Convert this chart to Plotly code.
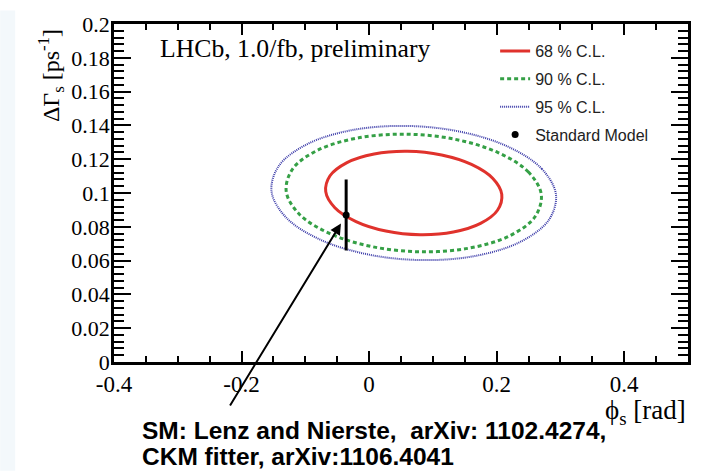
import plotly.graph_objects as go

# ---- data ----
cl68_phi = [0.208, 0.1937, 0.1605, 0.1137, 0.060, 0.0079, -0.0347, -0.0613, -0.068,
            -0.0537, -0.0205, 0.0263, 0.080, 0.1321, 0.1747, 0.2013, 0.208]
cl68_dg = [0.0992, 0.1087, 0.1169, 0.1225, 0.1247, 0.1231, 0.1180, 0.1102, 0.1008,
           0.0913, 0.0831, 0.0775, 0.0753, 0.0769, 0.0820, 0.0898, 0.0992]

cl90_phi = [0.270, 0.2498, 0.2022, 0.1346, 0.057, -0.0186, -0.0806, -0.1198, -0.130,
            -0.1098, -0.0622, 0.0054, 0.083, 0.1586, 0.2206, 0.2598, 0.270]
cl90_dg = [0.099, 0.1124, 0.1239, 0.1318, 0.1348, 0.1325, 0.1253, 0.1143, 0.101,
           0.0876, 0.0761, 0.0682, 0.0652, 0.0675, 0.0747, 0.0858, 0.099]

cl95_phi = [0.293, 0.2707, 0.2178, 0.1425, 0.056, -0.0283, -0.0976, -0.1415, -0.153,
            -0.1307, -0.0778, -0.0025, 0.084, 0.1683, 0.2376, 0.2815, 0.293]
cl95_dg = [0.099, 0.1143, 0.1274, 0.1363, 0.1397, 0.1371, 0.1288, 0.1161, 0.101,
           0.0857, 0.0726, 0.0637, 0.0603, 0.0629, 0.0712, 0.0839, 0.099]

sm_phi = [-0.036]
sm_dg = [0.087]
sm_err = [0.021]

x_tickvals = [-0.4, -0.2, 0, 0.2, 0.4]
x_ticktext = ["-0.4", "-0.2", "0", "0.2", "0.4"]
y_tickvals = [0, 0.02, 0.04, 0.06, 0.08, 0.1, 0.12, 0.14, 0.16, 0.18, 0.2]
y_ticktext = ["0", "0.02", "0.04", "0.06", "0.08", "0.1", "0.12", "0.14", "0.16", "0.18", "0.2"]

legend_names = ["68 % C.L.", "90 % C.L.", "95 % C.L.", "Standard Model"]

SERIF = "Liberation Serif, Times New Roman, serif"
SANS = "Liberation Sans, Arial, sans-serif"

fig = go.Figure()
fig.add_trace(go.Scatter(x=cl68_phi, y=cl68_dg, mode="lines", name=legend_names[0],
                         line=dict(color="#e0322c", width=3, shape="spline"),
                         legendgroup="a"))
fig.add_trace(go.Scatter(x=cl90_phi, y=cl90_dg, mode="lines", name=legend_names[1],
                         line=dict(color="#35a046", width=3, dash="4px,3px", shape="spline"),
                         legendgroup="b"))
fig.add_trace(go.Scatter(x=cl95_phi, y=cl95_dg, mode="lines", name=legend_names[2],
                         line=dict(color="#3a3aa8", width=2, dash="1px,1px", shape="spline"),
                         legendgroup="c"))
fig.add_trace(go.Scatter(x=sm_phi, y=sm_dg, mode="markers", name=legend_names[3],
                         marker=dict(color="black", size=7, symbol="circle"),
                         error_y=dict(type="data", array=sm_err, color="black",
                                      thickness=3, width=0),
                         legendgroup="d"))

# left light strip of the page
fig.add_shape(type="rect", xref="paper", yref="paper",
              x0=-114 / 575, x1=-99 / 575, y0=-112 / 348, y1=1 + 14 / 348,
              fillcolor="#f3f8fb", line=dict(width=0), layer="below")

# arrow pointing at SM point
fig.add_annotation(x=sm_phi[0], y=sm_dg[0], xref="x", yref="y", text="",
                   showarrow=True, arrowhead=2, arrowsize=1.1, arrowwidth=2,
                   arrowcolor="black", ax=-117, ay=192, standoff=10)

fig.add_annotation(xref="paper", yref="paper", x=0.077, y=0.975, xanchor="left", yanchor="top",
                   text="LHCb, 1.0/fb, preliminary", showarrow=False,
                   font=dict(family=SERIF, size=25.7, color="black"))

# axis titles (ROOT style: right/top aligned)
fig.add_annotation(xref="paper", yref="paper", x=1.0, y=-0.092, xanchor="right", yanchor="top",
                   text="ϕ<sub>s</sub> [rad]", showarrow=False,
                   font=dict(family=SERIF, size=27, color="black"))
fig.add_annotation(xref="paper", yref="paper", x=(51 - 114) / 575, y=1 - (67.5 - 14) / 348,
                   xanchor="center", yanchor="middle",
                   text="ΔΓ<sub>s</sub> [ps<sup>-1</sup>]", showarrow=False, textangle=-90,
                   font=dict(family=SERIF, size=24, color="black"))

fig.add_annotation(xref="paper", yref="paper", x=(140 - 114) / 575, y=-(433 - 362) / 348,
                   xanchor="left", yanchor="middle", align="left",
                   text="<b>SM: Lenz and Nierste,  arXiv: 1102.4274,</b>",
                   showarrow=False, font=dict(family=SANS, size=24.5, color="black"))
fig.add_annotation(xref="paper", yref="paper", x=(140 - 114) / 575, y=-(459 - 362) / 348,
                   xanchor="left", yanchor="middle", align="left",
                   text="<b>CKM fitter, arXiv:1106.4041</b>",
                   showarrow=False, font=dict(family=SANS, size=24.5, color="black"))

axis_common = dict(showline=True, linecolor="black", linewidth=2.5, mirror="ticks",
                   ticks="inside", tickcolor="black", showgrid=False, zeroline=False,
                   tickfont=dict(family=SERIF, size=23, color="black"))

fig.update_xaxes(range=[-0.4, 0.5], tickvals=x_tickvals, ticktext=x_ticktext,
                 ticklen=11, tickwidth=2,
                 minor=dict(dtick=0.05, ticklen=6, tickwidth=2, ticks="inside", tickcolor="black"),
                 **axis_common)
fig.update_yaxes(range=[0, 0.2], tickvals=y_tickvals, ticktext=y_ticktext,
                 ticklen=17, tickwidth=2, ticklabelstandoff=-3,
                 tickfont=dict(family=SERIF, size=22, color="black"),
                 minor=dict(dtick=0.004, ticklen=10, tickwidth=2, ticks="inside", tickcolor="black"),
                 **{k: v for k, v in axis_common.items() if k != "tickfont"})

fig.update_layout(
    width=703, height=474,
    margin=dict(l=114, r=14, t=14, b=112),
    paper_bgcolor="white", plot_bgcolor="white",
    legend=dict(x=0.664, y=0.97, xanchor="left", yanchor="top", bgcolor="rgba(0,0,0,0)",
                font=dict(family=SANS, size=16, color="#222222"),
                tracegroupgap=4, itemwidth=30),
    showlegend=True,
)

fig.write_html("out.html")
